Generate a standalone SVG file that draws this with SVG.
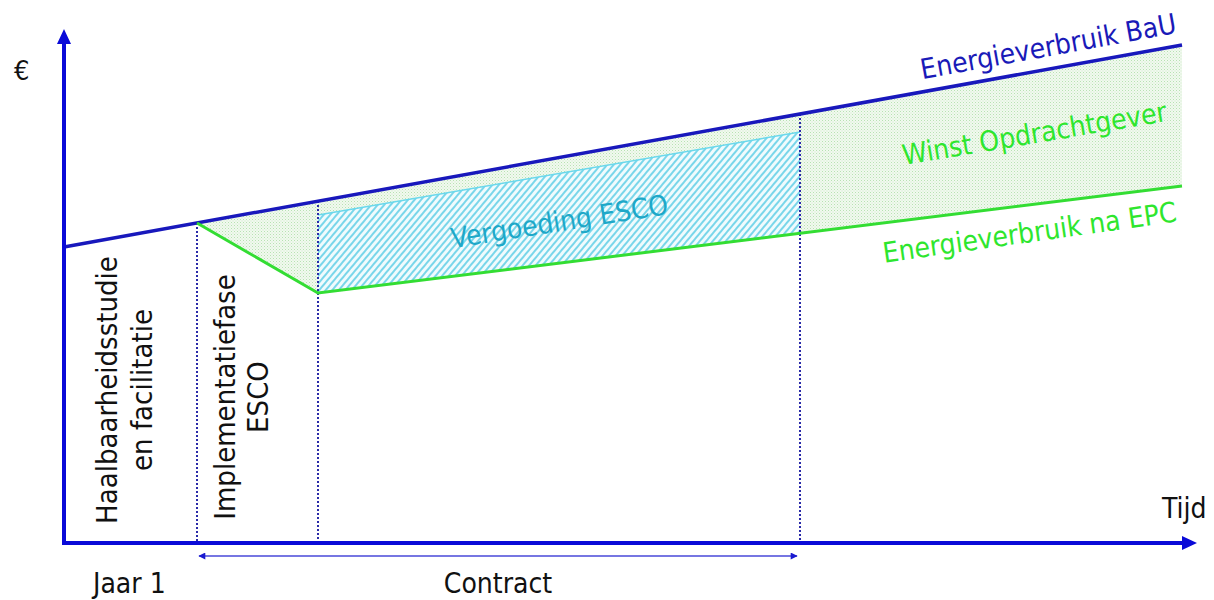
<svg xmlns="http://www.w3.org/2000/svg" width="1214" height="600" viewBox="0 0 1214 600">
<style>
text{font-family:"DejaVu Sans Condensed","DejaVu Sans",sans-serif;font-stretch:condensed;font-size:28px;}
.blk{fill:#111;}
.grn{fill:#2ee62e;}
.axis{stroke:#0a0ad8;stroke-width:4;fill:none;}
.dot{stroke:#2a2aa8;stroke-width:2;stroke-dasharray:2 2;fill:none;}
</style>
<defs>
<pattern id="stip" width="3" height="3" patternUnits="userSpaceOnUse">
<rect width="3" height="3" fill="#f1f9ef"/>
<rect width="1" height="1" fill="#b8e2b2"/>
<rect x="1.5" y="1.5" width="1" height="1" fill="#d0ecca"/>
</pattern>
<pattern id="hatch" width="5" height="5" patternUnits="userSpaceOnUse" patternTransform="rotate(40)">
<rect width="5" height="5" fill="#f0fbfd"/>
<line x1="1" y1="0" x2="1" y2="5" stroke="#6cd2e8" stroke-width="1.8"/>
</pattern>
<marker id="sa" viewBox="0 0 10 10" refX="9" refY="5" markerWidth="8" markerHeight="7" orient="auto-start-reverse" markerUnits="userSpaceOnUse">
<path d="M0,0L10,5L0,10z" fill="#1a1ad0"/>
</marker>
</defs>

<g id="areas">
<polygon points="197,223 1182,45 1182,186 318,293" fill="url(#stip)"/>
<polygon points="318,215 800,132 800,233 318,293" fill="url(#hatch)"/>
<line x1="318" y1="215" x2="800" y2="132" stroke="#6ad8ec" stroke-width="1.5"/>
</g>

<g id="connectors">
<line class="dot" x1="197" y1="223" x2="197" y2="541"/>
<line class="dot" x1="318" y1="201" x2="318" y2="541"/>
<line class="dot" x1="800" y1="114" x2="800" y2="541"/>
<line x1="64" y1="247" x2="1182" y2="45" stroke="#1818bc" stroke-width="3.5"/>
<polyline points="197,223 318,293 1182,186" fill="none" stroke="#33dd33" stroke-width="3"/>
<line class="axis" x1="64" y1="545" x2="64" y2="42"/>
<polygon points="64,29 57,44 71,44" fill="#0a0ad8"/>
<line class="axis" x1="62" y1="543" x2="1184" y2="543"/>
<polygon points="1197,543 1182,536 1182,550" fill="#0a0ad8"/>
<line x1="199" y1="556" x2="797" y2="556" stroke="#4848d8" stroke-width="1.5" marker-start="url(#sa)" marker-end="url(#sa)"/>
</g>

<g id="labels">
<text class="blk" x="14" y="80" style="font-size:27px">€</text>
<text x="1050" y="56" fill="#1a1ab8" text-anchor="middle" transform="rotate(-10.3 1050 56)">Energieverbruik BaU</text>
<text class="grn" x="1036" y="143" text-anchor="middle" transform="rotate(-9.5 1036 143)">Winst Opdrachtgever</text>
<text class="grn" x="1031" y="242" text-anchor="middle" transform="rotate(-8 1031 242)">Energieverbruik na EPC</text>
<text x="561" y="231" fill="#1ea8c8" text-anchor="middle" transform="rotate(-9 561 231)">Vergoeding ESCO</text>
<g transform="translate(117 390) rotate(-90)">
<text class="blk" style="font-size:29px" text-anchor="middle" x="0" y="0">Haalbaarheidsstudie</text>
<text class="blk" style="font-size:29px" text-anchor="middle" x="0" y="35">en facilitatie</text>
</g>
<g transform="translate(235 397) rotate(-90)">
<text class="blk" style="font-size:29px" text-anchor="middle" x="0" y="0">Implementatiefase</text>
<text class="blk" style="font-size:29px" text-anchor="middle" x="0" y="33">ESCO</text>
</g>
<text class="blk" x="1162" y="518">Tijd</text>
<text class="blk" x="93" y="593">Jaar 1</text>
<text class="blk" x="498" y="593" text-anchor="middle">Contract</text>
</g>
</svg>
